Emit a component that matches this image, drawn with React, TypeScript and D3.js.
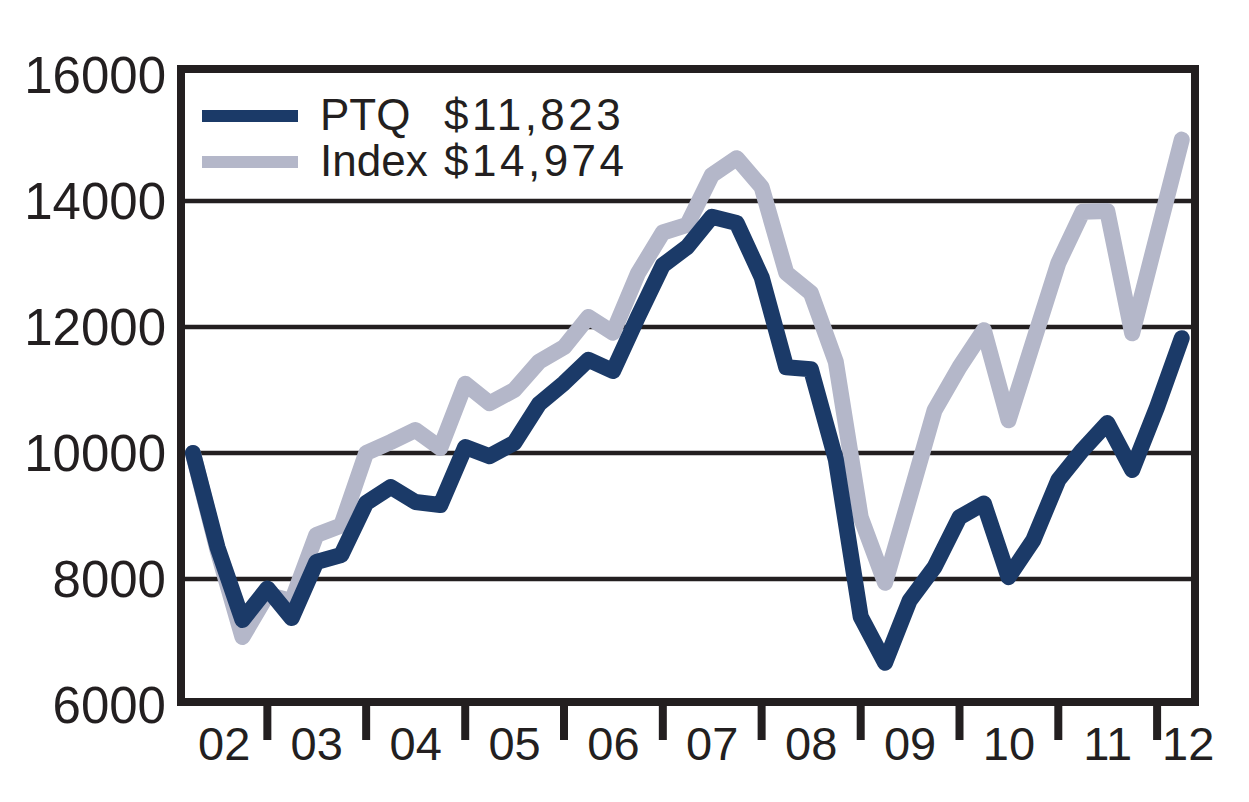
import React from 'react';
import * as d3 from 'd3';

// quarterly growth of $10,000, Q1 2002 .. Q1 2012
const ptq = [
  10000, 8500, 7350, 7850, 7380, 8270, 8380, 9206, 9460, 9222,
  9174, 10095, 9950, 10160, 10780, 11110, 11480, 11300, 12160, 12980,
  13270, 13750, 13650, 12790, 11360, 11330, 9900, 7400, 6670, 7660,
  8190, 8980, 9200, 8030, 8620, 9570, 10050, 10475, 9730, 10730, 11823,
];
const index = [
  10000, 8450, 7080, 7750, 7650, 8700, 8850, 10000, 10175, 10365,
  10080, 11100, 10790, 11000, 11450, 11680, 12160, 11910, 12850, 13500,
  13620, 14410, 14680, 14220, 12860, 12540, 11450, 8980, 7940, 9300,
  10680, 11365, 11950, 10520, 11770, 13015, 13830, 13840, 11900, 13450, 14974,
];
const yearLabels = ['02', '03', '04', '05', '06', '07', '08', '09', '10', '11', '12'];
const yTicks = [6000, 8000, 10000, 12000, 14000, 16000];
const legendItems = [
  { name: 'PTQ', value: '$11,823', color: '#1b3a68' },
  { name: 'Index', value: '$14,974', color: '#b4b7c9' },
];

const W = 1249;
const H = 802;
const frame = { left: 181, right: 1195, top: 69, bottom: 702 };
const ink = '#231f20';
const font = '"Liberation Sans", Arial, sans-serif';

export default function App() {
  const dates = d3.timeMonth.range(new Date(2002, 3, 1), new Date(2012, 3, 2), 3);

  const x = d3.scaleTime()
    .domain([new Date(2002, 1, 16), new Date(2012, 4, 20)])
    .range([frame.left, frame.right]);

  const y = d3.scaleLinear()
    .domain([6000, 16000])
    .range([705, 75]);

  const line = d3.line<number>()
    .x((_, i) => x(dates[i]))
    .y(d => y(d));

  const yearTicks = d3.range(2003, 2013).map(yr => x(new Date(yr, 0, 1)));

  return (
    <svg width={W} height={H} style={{ display: 'block', position: 'absolute', left: 0, top: 0 }}>
      <rect width={W} height={H} fill="#fff" />

      {/* grid lines */}
      {yTicks.filter(t => t > 6000 && t < 16000).map(t => (
        <line key={t} x1={frame.left} x2={frame.right} y1={y(t)} y2={y(t)}
          stroke={ink} strokeWidth={4.5} />
      ))}

      {/* series */}
      <path d={line(index) || ''} fill="none" stroke={legendItems[1].color}
        strokeWidth={16} strokeLinejoin="round" strokeLinecap="round" />
      <path d={line(ptq) || ''} fill="none" stroke={legendItems[0].color}
        strokeWidth={16} strokeLinejoin="round" strokeLinecap="round" />

      {/* frame */}
      <rect x={frame.left} y={frame.top} width={frame.right - frame.left}
        height={frame.bottom - frame.top} fill="none" stroke={ink} strokeWidth={8} />

      {/* y labels */}
      {yTicks.map(t => (
        <text key={t} x={166} y={y(t)} dy="0.36em" textAnchor="end"
          fontFamily={font} fontSize={51} fill={ink}>{t}</text>
      ))}

      {/* year ticks */}
      {yearTicks.map((tx, i) => (
        <line key={i} x1={tx} x2={tx} y1={frame.bottom} y2={740}
          stroke={ink} strokeWidth={8} />
      ))}

      {/* year labels */}
      {yearLabels.map((lab, i) => {
        const a = Math.max(frame.left, x(new Date(2002 + i, 0, 1)));
        const b = Math.min(frame.right, x(new Date(2003 + i, 0, 1)));
        const last = i === yearLabels.length - 1;
        return (
          <text key={lab} x={last ? a + 5 : (a + b) / 2} y={760}
            textAnchor={last ? 'start' : 'middle'}
            fontFamily={font} fontSize={47} fill={ink}>{lab}</text>
        );
      })}

      {/* legend */}
      {legendItems.map((d, i) => (
        <g key={d.name} transform={`translate(0,${116 + i * 46})`}>
          <line x1={202} x2={298} y1={0} y2={0} stroke={d.color} strokeWidth={12} />
          <text x={320} y={14} fontFamily={font} fontSize={44} fill={ink}>{d.name}</text>
          <text x={444} y={14} fontFamily={font} fontSize={44} letterSpacing={3.5} fill={ink}>{d.value}</text>
        </g>
      ))}
    </svg>
  );
}
